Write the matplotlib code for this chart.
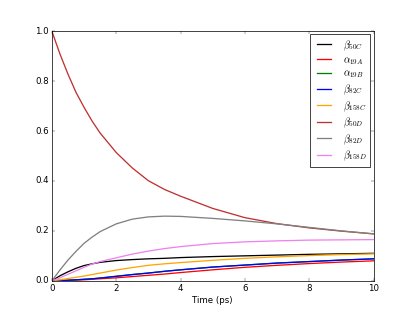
import matplotlib
matplotlib.use("Agg")
import matplotlib.pyplot as plt

# time points (ps)
time_ps = [0, 0.25, 0.5, 0.75, 1, 1.25, 1.5, 2, 2.5, 3, 3.5, 4, 5, 6, 7, 8, 9, 10]

# populations
beta50C = [0, 0.020, 0.036, 0.050, 0.061, 0.068, 0.074, 0.081, 0.085, 0.088, 0.090, 0.093, 0.097, 0.100, 0.103, 0.106, 0.108, 0.110]
alpha19A = [0, 0.001, 0.002, 0.003, 0.004, 0.006, 0.008, 0.012, 0.017, 0.022, 0.027, 0.033, 0.044, 0.054, 0.062, 0.069, 0.075, 0.080]
alpha19B = [0, 0.001, 0.002, 0.004, 0.006, 0.008, 0.011, 0.018, 0.025, 0.031, 0.038, 0.044, 0.055, 0.063, 0.071, 0.077, 0.083, 0.088]
beta82C = [0, 0.001, 0.002, 0.004, 0.006, 0.008, 0.011, 0.018, 0.025, 0.031, 0.038, 0.044, 0.055, 0.063, 0.071, 0.077, 0.083, 0.088]
beta158C = [0, 0.004, 0.009, 0.014, 0.019, 0.025, 0.031, 0.043, 0.053, 0.062, 0.068, 0.073, 0.082, 0.090, 0.096, 0.101, 0.105, 0.108]
beta50D = [1.0, 0.909, 0.828, 0.755, 0.695, 0.640, 0.592, 0.514, 0.452, 0.401, 0.366, 0.339, 0.290, 0.253, 0.229, 0.212, 0.199, 0.188]
beta82D = [0, 0.043, 0.083, 0.118, 0.150, 0.175, 0.197, 0.228, 0.247, 0.256, 0.259, 0.258, 0.250, 0.240, 0.228, 0.214, 0.200, 0.188]
beta158D = [0, 0.012, 0.026, 0.040, 0.054, 0.067, 0.077, 0.092, 0.107, 0.119, 0.129, 0.137, 0.149, 0.156, 0.160, 0.163, 0.164, 0.165]

labels = [r'$\beta_{50C}$', r'$\alpha_{19A}$', r'$\alpha_{19B}$', r'$\beta_{82C}$',
          r'$\beta_{158C}$', r'$\beta_{50D}$', r'$\beta_{82D}$', r'$\beta_{158D}$']
series = [beta50C, alpha19A, alpha19B, beta82C, beta158C, beta50D, beta82D, beta158D]
colors = ['black', 'red', 'green', 'blue', 'orange', '#c03030', 'gray', 'violet']

plt.style.use('classic')
fig = plt.figure(figsize=(8, 6.015), dpi=51.875, facecolor='white')
ax = fig.add_subplot(111)

for vals, lab, col in zip(series, labels, colors):
    ax.plot(time_ps, vals, color=col, label=lab, linewidth=1.8)

ax.set_xlim(0, 10)
ax.set_ylim(0, 1.0)
ax.set_xlabel('Time (ps)')
ax.legend(loc='upper right', fontsize=14, labelspacing=0.22, borderaxespad=0.3)

fig.savefig('out.png', dpi=51.875, facecolor='white')
